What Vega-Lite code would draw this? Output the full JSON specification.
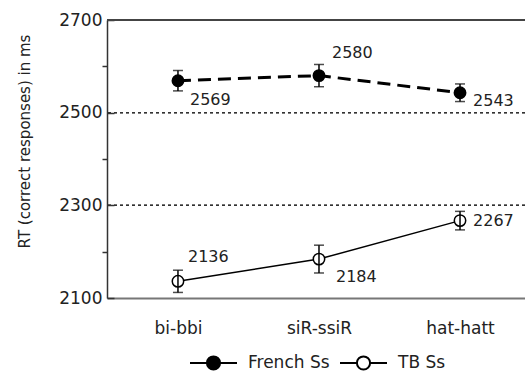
{
  "$schema": "https://vega.github.io/schema/vega-lite/v6.json",
  "width": 418,
  "height": 278,
  "autosize": {"type": "none"},
  "padding": {"left": 107, "top": 20, "right": 0, "bottom": 84},
  "background": "white",
  "config": {
    "view": {"stroke": null},
    "font": "DejaVu Sans",
    "axis": {"grid": false}
  },
  "data": {
    "values": [
      {"series": "French Ss", "cond": "bi-bbi", "rt": 2569, "lo": 2547, "hi": 2591},
      {"series": "French Ss", "cond": "siR-ssiR", "rt": 2580, "lo": 2556, "hi": 2604},
      {"series": "French Ss", "cond": "hat-hatt", "rt": 2543, "lo": 2524, "hi": 2562},
      {"series": "TB Ss", "cond": "bi-bbi", "rt": 2136, "lo": 2112, "hi": 2160},
      {"series": "TB Ss", "cond": "siR-ssiR", "rt": 2184, "lo": 2154, "hi": 2214},
      {"series": "TB Ss", "cond": "hat-hatt", "rt": 2267, "lo": 2247, "hi": 2287}
    ]
  },
  "layer": [
    {
      "mark": {"type": "rule", "color": "#444", "strokeWidth": 1.5},
      "encoding": {"y": {"datum": 2700, "type": "quantitative", "title": "RT (correct responses) in ms"}}
    },
    {
      "mark": {"type": "rule", "color": "#333", "strokeWidth": 1, "strokeDash": [3, 3]},
      "encoding": {"y": {"datum": 2500, "type": "quantitative", "title": "RT (correct responses) in ms"}}
    },
    {
      "mark": {"type": "rule", "color": "#333", "strokeWidth": 1, "strokeDash": [3, 3]},
      "encoding": {"y": {"datum": 2300, "type": "quantitative", "title": "RT (correct responses) in ms"}}
    },
    {
      "transform": [{"filter": "datum.series === 'French Ss'"}],
      "mark": {"type": "line", "color": "black", "strokeWidth": 3, "strokeDash": [13, 7]},
      "encoding": {
        "x": {"field": "cond", "type": "ordinal", "sort": ["bi-bbi", "siR-ssiR", "hat-hatt"], "title": null,
              "scale": {"type": "point", "padding": 0.482, "align": 0.522},
              "axis": {"labelAngle": 0, "ticks": false, "domainColor": "#777", "domainWidth": 2, "labelFontSize": 17, "labelColor": "#222", "labelPadding": 22}},
        "y": {"field": "rt", "type": "quantitative", "title": "RT (correct responses) in ms",
              "scale": {"domain": [2100, 2700], "nice": false, "zero": false},
              "axis": {"values": [2100, 2200, 2300, 2400, 2500, 2600, 2700],
                       "labelExpr": "datum.value % 200 === 100 ? datum.label : ''",
                       "format": "d",
                       "tickSize": {"condition": {"test": "datum.value % 200 === 0", "value": 5}, "value": -7},
                       "tickColor": "#333", "tickWidth": 1.5, "domainColor": "#333", "domainWidth": 1.5,
                       "labelFontSize": 17, "labelColor": "#222", "labelPadding": 12,
                       "titleFontSize": 15, "titleFontWeight": "normal", "titleColor": "#222",
                       "titleX": -83, "titleY": 121, "titleBaseline": "middle", "titleAlign": "center", "titleAngle": -90}}
      }
    },
    {
      "transform": [{"filter": "datum.series === 'TB Ss'"}],
      "mark": {"type": "line", "color": "black", "strokeWidth": 1.5},
      "encoding": {
        "x": {"field": "cond", "type": "ordinal", "sort": ["bi-bbi", "siR-ssiR", "hat-hatt"], "title": null},
        "y": {"field": "rt", "type": "quantitative", "title": "RT (correct responses) in ms"}
      }
    },
    {
      "mark": {"type": "point", "shape": "circle", "size": 130, "strokeWidth": 1.5, "stroke": "black", "opacity": 1, "filled": false},
      "encoding": {
        "x": {"field": "cond", "type": "ordinal", "sort": ["bi-bbi", "siR-ssiR", "hat-hatt"], "title": null},
        "y": {"field": "rt", "type": "quantitative", "title": "RT (correct responses) in ms"},
        "fill": {"field": "series", "type": "nominal",
                 "scale": {"domain": ["French Ss", "TB Ss"], "range": ["black", "white"]},
                 "legend": {"title": null, "orient": "none", "direction": "horizontal",
                            "legendX": 82, "legendY": 318, "padding": 0,
                            "symbolType": "M-1,0H-0.28M0.28,0H1M0.28,0A0.28,0.28,0,1,1,-0.28,0A0.28,0.28,0,1,1,0.28,0Z",
                            "symbolSize": 2209, "symbolStrokeColor": "black", "symbolStrokeWidth": 2,
                            "labelFontSize": 17, "labelColor": "#222", "labelOffset": 10, "columnPadding": 6}}
      }
    },
    {
      "mark": {"type": "rule", "color": "black", "strokeWidth": 1.5},
      "encoding": {
        "x": {"field": "cond", "type": "ordinal", "sort": ["bi-bbi", "siR-ssiR", "hat-hatt"], "title": null},
        "y": {"field": "lo", "type": "quantitative", "title": "RT (correct responses) in ms"},
        "y2": {"field": "hi"}
      }
    },
    {
      "mark": {"type": "tick", "color": "black", "size": 10, "thickness": 1.5, "orient": "horizontal"},
      "encoding": {
        "x": {"field": "cond", "type": "ordinal", "sort": ["bi-bbi", "siR-ssiR", "hat-hatt"], "title": null},
        "y": {"field": "lo", "type": "quantitative", "title": "RT (correct responses) in ms"}
      }
    },
    {
      "mark": {"type": "tick", "color": "black", "size": 10, "thickness": 1.5, "orient": "horizontal"},
      "encoding": {
        "x": {"field": "cond", "type": "ordinal", "sort": ["bi-bbi", "siR-ssiR", "hat-hatt"], "title": null},
        "y": {"field": "hi", "type": "quantitative", "title": "RT (correct responses) in ms"}
      }
    },
    {
      "transform": [{"filter": "datum.series === 'French Ss' && datum.cond === 'bi-bbi'"}],
      "mark": {"type": "text", "align": "left", "baseline": "middle", "fontSize": 16, "color": "#222", "dx": 12, "dy": 19},
      "encoding": {
        "x": {"field": "cond", "type": "ordinal", "sort": ["bi-bbi", "siR-ssiR", "hat-hatt"], "title": null},
        "y": {"field": "rt", "type": "quantitative", "title": "RT (correct responses) in ms"},
        "text": {"field": "rt", "type": "quantitative", "format": "d"}
      }
    },
    {
      "transform": [{"filter": "datum.series === 'French Ss' && datum.cond === 'siR-ssiR'"}],
      "mark": {"type": "text", "align": "left", "baseline": "middle", "fontSize": 16, "color": "#222", "dx": 13, "dy": -23},
      "encoding": {
        "x": {"field": "cond", "type": "ordinal", "sort": ["bi-bbi", "siR-ssiR", "hat-hatt"], "title": null},
        "y": {"field": "rt", "type": "quantitative", "title": "RT (correct responses) in ms"},
        "text": {"field": "rt", "type": "quantitative", "format": "d"}
      }
    },
    {
      "transform": [{"filter": "datum.series === 'French Ss' && datum.cond === 'hat-hatt'"}],
      "mark": {"type": "text", "align": "left", "baseline": "middle", "fontSize": 16, "color": "#222", "dx": 13, "dy": 8},
      "encoding": {
        "x": {"field": "cond", "type": "ordinal", "sort": ["bi-bbi", "siR-ssiR", "hat-hatt"], "title": null},
        "y": {"field": "rt", "type": "quantitative", "title": "RT (correct responses) in ms"},
        "text": {"field": "rt", "type": "quantitative", "format": "d"}
      }
    },
    {
      "transform": [{"filter": "datum.series === 'TB Ss' && datum.cond === 'bi-bbi'"}],
      "mark": {"type": "text", "align": "left", "baseline": "middle", "fontSize": 16, "color": "#222", "dx": 10, "dy": -24},
      "encoding": {
        "x": {"field": "cond", "type": "ordinal", "sort": ["bi-bbi", "siR-ssiR", "hat-hatt"], "title": null},
        "y": {"field": "rt", "type": "quantitative", "title": "RT (correct responses) in ms"},
        "text": {"field": "rt", "type": "quantitative", "format": "d"}
      }
    },
    {
      "transform": [{"filter": "datum.series === 'TB Ss' && datum.cond === 'siR-ssiR'"}],
      "mark": {"type": "text", "align": "left", "baseline": "middle", "fontSize": 16, "color": "#222", "dx": 17, "dy": 18},
      "encoding": {
        "x": {"field": "cond", "type": "ordinal", "sort": ["bi-bbi", "siR-ssiR", "hat-hatt"], "title": null},
        "y": {"field": "rt", "type": "quantitative", "title": "RT (correct responses) in ms"},
        "text": {"field": "rt", "type": "quantitative", "format": "d"}
      }
    },
    {
      "transform": [{"filter": "datum.series === 'TB Ss' && datum.cond === 'hat-hatt'"}],
      "mark": {"type": "text", "align": "left", "baseline": "middle", "fontSize": 16, "color": "#222", "dx": 13, "dy": 0},
      "encoding": {
        "x": {"field": "cond", "type": "ordinal", "sort": ["bi-bbi", "siR-ssiR", "hat-hatt"], "title": null},
        "y": {"field": "rt", "type": "quantitative", "title": "RT (correct responses) in ms"},
        "text": {"field": "rt", "type": "quantitative", "format": "d"}
      }
    }
  ]
}
